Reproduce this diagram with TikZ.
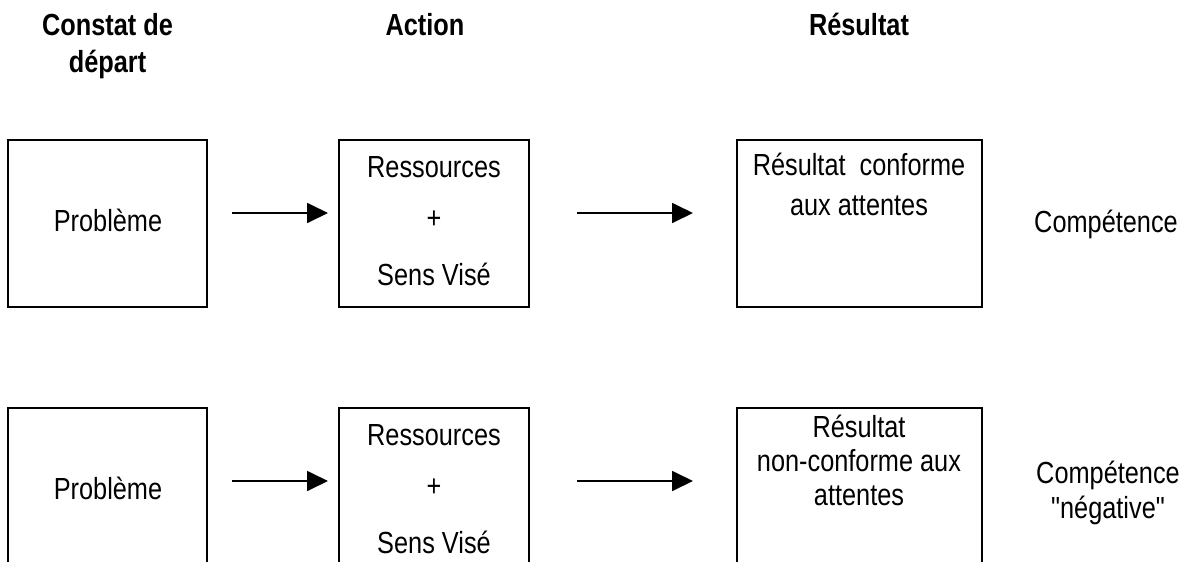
\documentclass[tikz,border=0pt]{standalone}
\usepackage{fontspec}
\setmainfont{Liberation Sans}[FakeStretch=0.83, Ligatures=TeXOff]
\usetikzlibrary{arrows.meta}
\begin{document}
\begin{tikzpicture}[x=1pt,y=-1pt,
  box/.style={draw, line width=2.4pt, anchor=north west, inner sep=0pt, outer sep=0pt, minimum height=167pt},
  txt/.style={anchor=base, inner sep=0pt, font=\fontsize{30.5}{36}\selectfont},
  hdr/.style={anchor=base, inner sep=0pt, font=\fontsize{30.5}{36}\selectfont\bfseries},
  arr/.style={line width=1.8pt, -{Triangle[length=21pt,width=20pt]}}]
\useasboundingbox (0,0) rectangle (1186,562);
\clip (0,0) rectangle (1186,562);
% headers
\node[hdr] (h1a) at (107.5,35) {Constat de};
\node[hdr] (h1b) at (107.5,72) {départ};
\node[hdr] (h2) at (425,35) {Action};
\node[hdr] (h3) at (859,35) {Résultat};
% top row
\node[box, minimum width=199pt] (a1) at (8,140) {};
\node[box, minimum width=190pt] (a2) at (339,140) {};
\node[box, minimum width=245pt] (a3) at (737,140) {};
\node[txt] (a1t) at (108,231) {Problème};
\node[txt] (a2t1) at (434,177) {Ressources};
\node[txt] (a2t2) at (434,228) {+};
\node[txt] (a2t3) at (434,285) {Sens Visé};
\node[txt] (a3t1) at (859,175) {Résultat\ \ conforme};
\node[txt] (a3t2) at (859,215) {aux attentes};
\node[txt] (a4) at (1106,232) {Compétence};
\draw[arr, shorten <=25pt, shorten >=11pt] ([yshift=10.5pt]a1.east) -- ([yshift=10.5pt]a2.west);
\draw[arr, shorten <=48pt, shorten >=44pt] ([yshift=10.5pt]a2.east) -- ([yshift=10.5pt]a3.west);
% bottom row
\node[box, minimum width=199pt] (b1) at (8,408) {};
\node[box, minimum width=190pt] (b2) at (339,408) {};
\node[box, minimum width=245pt] (b3) at (737,408) {};
\node[txt] (b1t) at (108,499) {Problème};
\node[txt] (b2t1) at (434,445) {Ressources};
\node[txt] (b2t2) at (434,496) {+};
\node[txt] (b2t3) at (434,553) {Sens Visé};
\node[txt] (b3t1) at (859,437) {Résultat};
\node[txt] (b3t2) at (859,471) {non-conforme aux};
\node[txt] (b3t3) at (859,505) {attentes};
\node[txt] (b4a) at (1108,483) {Compétence};
\node[txt] (b4b) at (1108,518) {"négative"};
\draw[arr, shorten <=25pt, shorten >=11pt] ([yshift=10.5pt]b1.east) -- ([yshift=10.5pt]b2.west);
\draw[arr, shorten <=48pt, shorten >=44pt] ([yshift=10.5pt]b2.east) -- ([yshift=10.5pt]b3.west);
\end{tikzpicture}
\end{document}
